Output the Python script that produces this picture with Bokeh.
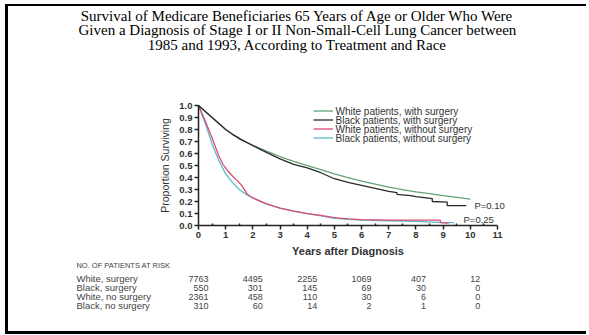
from bokeh.plotting import figure
from bokeh.models import (Label, Legend, LegendItem, FixedTicker, PrintfTickFormatter,
                          ColumnDataSource)
from bokeh.core.properties import value
from bokeh.embed import file_html
from bokeh.resources import INLINE

# ---------------- data ----------------
title_lines = [
    "Survival of Medicare Beneficiaries 65 Years of Age or Older Who Were",
    "Given a Diagnosis of Stage I or II Non-Small-Cell Lung Cancer between",
    "1985 and 1993, According to Treatment and Race",
]

series_names = [
    "White patients, with surgery",
    "Black patients, with surgery",
    "White patients, without surgery",
    "Black patients, without surgery",
]
series_colors = ["#62a275", "#2a2a2a", "#e04a72", "#57bccb"]

white_surg_t = [0, 0.1, 0.25, 0.5, 0.75, 1.0, 1.25, 1.5, 1.75, 2.0, 2.5, 3.0, 3.5, 4.0,
                4.5, 5.0, 5.5, 6.0, 6.5, 7.0, 7.5, 8.0, 8.5, 9.0, 9.5, 10.0]
white_surg_s = [1.0, 0.98, 0.95, 0.90, 0.85, 0.80, 0.76, 0.72, 0.695, 0.67, 0.62, 0.575, 0.535, 0.50,
                0.465, 0.43, 0.40, 0.37, 0.345, 0.32, 0.30, 0.28, 0.265, 0.25, 0.235, 0.22]

black_surg_t = [0, 0.25, 0.5, 0.75, 1.0, 1.25, 1.45, 1.55, 2.0, 2.5, 3.0, 3.5, 4.0, 4.5, 5.0,
                5.5, 6.0, 6.5, 7.0, 7.3, 7.3, 7.8, 8.0, 8.6, 8.6, 9.15, 9.15, 9.85]
black_surg_s = [1.0, 0.95, 0.90, 0.85, 0.80, 0.76, 0.735, 0.72, 0.665, 0.61, 0.555, 0.51, 0.48, 0.44, 0.39,
                0.36, 0.335, 0.31, 0.285, 0.275, 0.26, 0.25, 0.24, 0.225, 0.20, 0.195, 0.165, 0.165]

white_nosurg_t = [0, 0.1, 0.25, 0.5, 0.75, 0.9, 1.1, 1.3, 1.45, 1.6, 1.8, 2.0, 2.5, 3.0, 3.5, 4.0,
                  4.5, 5.0, 5.5, 6.0, 7.0, 8.0, 8.9, 8.9, 9.2]
white_nosurg_s = [1.0, 0.95, 0.87, 0.73, 0.58, 0.51, 0.45, 0.40, 0.37, 0.33, 0.26, 0.23, 0.18, 0.145, 0.12, 0.10,
                  0.085, 0.065, 0.055, 0.05, 0.045, 0.045, 0.045, 0.025, 0.02]

black_nosurg_t = [0, 0.1, 0.25, 0.5, 0.75, 1.0, 1.25, 1.5, 1.75, 2.0, 2.5, 3.0, 3.5, 4.0, 4.5,
                  5.0, 6.0, 7.0, 8.0, 9.0, 9.4]
black_nosurg_s = [1.0, 0.94, 0.85, 0.68, 0.54, 0.43, 0.36, 0.30, 0.26, 0.23, 0.18, 0.145, 0.12, 0.10, 0.08,
                  0.06, 0.045, 0.04, 0.035, 0.025, 0.025]

p_values = ["P=0.10", "P=0.25"]
p_value_x = [10.15, 9.75]
p_value_y = [0.165, 0.05]

x_ticks = list(range(12))
y_ticks = [i / 10 for i in range(11)]

risk_years = [0, 2, 4, 6, 8, 10]
risk_groups = ["White, surgery", "Black, surgery", "White, no surgery", "Black, no surgery"]
risk_white_surg = [7763, 4495, 2255, 1069, 407, 12]
risk_black_surg = [550, 301, 145, 69, 30, 0]
risk_white_nosurg = [2361, 458, 110, 30, 6, 0]
risk_black_nosurg = [310, 60, 14, 2, 1, 0]

# ---------------- figure ----------------
# the frame covers the whole canvas; axes are pinned at x=0 / y=0
W, H = 581, 325
p = figure(width=W, height=H, x_range=(-6.99, 14.385), y_range=(-0.883, 1.825),
           output_backend="svg", toolbar_location=None, title=None,
           min_border=0, min_border_left=0, min_border_right=0,
           min_border_top=0, min_border_bottom=0)
p.outline_line_color = None
p.xgrid.grid_line_color = None
p.ygrid.grid_line_color = None
p.background_fill_color = "white"
p.border_fill_color = "white"
p.styles = {"margin-left": "8px", "margin-top": "6px",
            "box-shadow": "-3px -2px 0 0 #000, -3px 3px 0 0 #000"}

FONT = "Liberation Sans"
for ax in (p.xaxis[0], p.yaxis[0]):
    ax.fixed_location = 0
    ax.axis_line_color = "#222"
    ax.axis_line_width = 1.5
    ax.major_tick_line_color = "#222"
    ax.major_tick_line_width = 1.5
    ax.major_tick_in = 0
    ax.major_tick_out = 4
    ax.major_label_text_font = FONT
    ax.major_label_text_font_size = "9.5px"
    ax.major_label_text_font_style = "bold"
    ax.major_label_text_color = "#333"

p.xaxis.bounds = (0, 11)
p.yaxis.bounds = (0, 1)
p.xaxis.ticker = FixedTicker(ticks=x_ticks, minor_ticks=[t + 0.5 for t in x_ticks[:-1]])
p.xaxis.minor_tick_in = 2
p.xaxis.minor_tick_out = 0
p.xaxis.minor_tick_line_color = "#222"
p.xaxis.minor_tick_line_width = 1.5
p.xaxis.major_label_standoff = 2
p.xaxis.axis_label = "Years after Diagnosis"
p.xaxis.axis_label_text_font = FONT
p.xaxis.axis_label_text_font_style = "bold"
p.xaxis.axis_label_text_font_size = "11px"
p.xaxis.axis_label_text_color = "#333"
p.xaxis.axis_label_standoff = 4

p.yaxis.ticker = FixedTicker(ticks=y_ticks)
p.yaxis.formatter = PrintfTickFormatter(format="%.1f")
p.yaxis.minor_tick_line_color = None
p.yaxis.major_label_standoff = 2
p.yaxis.axis_label = "Proportion Surviving"
p.yaxis.axis_label_text_font = FONT
p.yaxis.axis_label_text_font_style = "normal"
p.yaxis.axis_label_text_font_size = "10.5px"
p.yaxis.axis_label_text_color = "#333"
p.yaxis.axis_label_standoff = 5

curves = [(white_surg_t, white_surg_s), (black_surg_t, black_surg_s),
          (white_nosurg_t, white_nosurg_s), (black_nosurg_t, black_nosurg_s)]
rmap = {}
for i in [3, 2, 0, 1]:
    t, s = curves[i]
    rmap[i] = p.line(t, s, line_color=series_colors[i], line_width=1.3)
renderers = [rmap[i] for i in range(4)]

# legend: library legend draws the line samples; entry texts are set beside them
legend = Legend(items=[LegendItem(label=" ", renderers=[r]) for r in renderers],
                location=(305, 189))
legend.background_fill_alpha = 0
legend.border_line_color = None
legend.padding = 0
legend.margin = 0
legend.spacing = 0
legend.label_text_font = FONT
legend.label_text_font_size = "1px"
legend.label_height = 9
legend.glyph_height = 9
legend.glyph_width = 20
legend.label_standoff = 0
legend.label_width = 1
p.add_layout(legend)

legend_text_x = 5.04
legend_text_y = [0.954, 0.879, 0.804, 0.729]
for name, ly in zip(series_names, legend_text_y):
    p.add_layout(Label(x=legend_text_x, y=ly, text=name, text_font=FONT,
                       text_font_size="10px", text_color="#333",
                       text_baseline="middle", text_align="left"))

for txt, x, y in zip(p_values, p_value_x, p_value_y):
    p.add_layout(Label(x=x, y=y, text=txt, text_font=FONT, text_font_size="9.5px",
                       text_color="#333", text_baseline="middle", text_align="left"))

# title
title_y = [1.746, 1.629, 1.508]
for line, ty in zip(title_lines, title_y):
    p.add_layout(Label(x=3.64, y=ty, text=line, text_font="Liberation Serif",
                       text_font_size="15px", text_color="#000",
                       text_align="center", text_baseline="middle"))

# number at risk table
table_label_x = -4.49
row_y = [-0.442, -0.517, -0.592, -0.667]
p.add_layout(Label(x=table_label_x, y=-0.333, text="NO. OF PATIENTS AT RISK", text_font=FONT,
                   text_font_size="7.5px", text_color="#444", text_baseline="middle"))
rows = [risk_white_surg, risk_black_surg, risk_white_nosurg, risk_black_nosurg]
xs, ys, txts = [], [], []
for name, vals, yy in zip(risk_groups, rows, row_y):
    p.add_layout(Label(x=table_label_x, y=yy, text=name, text_font=FONT, text_font_size="9.5px",
                       text_color="#444", text_baseline="middle"))
    for yr, n in zip(risk_years, vals):
        xs.append(yr)
        ys.append(yy)
        txts.append(str(n))
src = ColumnDataSource(dict(x=xs, y=ys, text=txts))
p.text("x", "y", text="text", source=src, x_offset=10, text_font=value(FONT),
       text_font_size="9px", text_color="#444", text_align="right", text_baseline="middle")

open("out.html", "w").write(file_html(p, INLINE))
